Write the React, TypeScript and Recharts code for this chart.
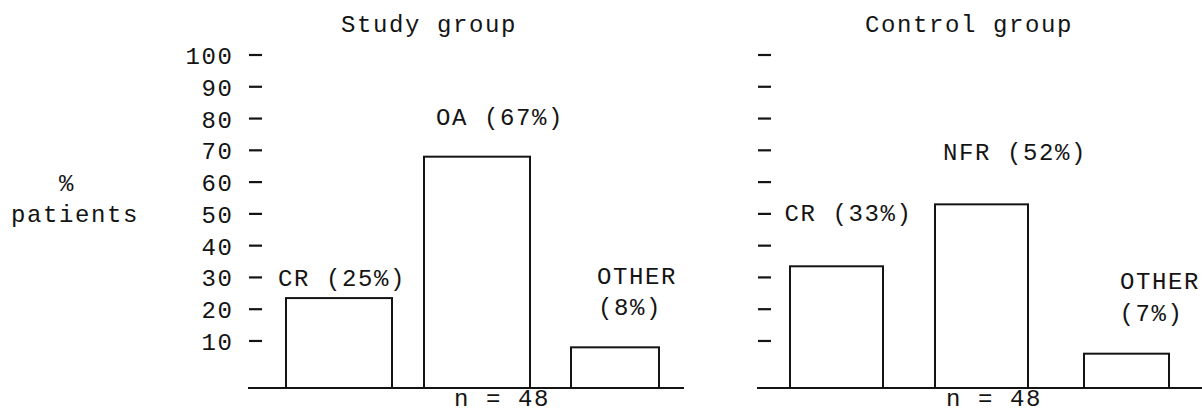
import React from 'react';
import { BarChart, Bar, XAxis, YAxis, LabelList } from 'recharts';

// ---------- data ----------
const studyCategories = ['CR', 'OA', 'OTHER'];
const studyValues = [23.5, 68, 8];
const studyPercentLabels = ['25%', '67%', '8%'];

const controlCategories = ['CR', 'NFR', 'OTHER'];
const controlValues = [33.5, 53, 6];
const controlPercentLabels = ['33%', '52%', '7%'];

const yTicks = [10, 20, 30, 40, 50, 60, 70, 80, 90, 100];
const yDomain: [number, number] = [-4.8, 100];

const studyTitle = 'Study group';
const controlTitle = 'Control group';
const yAxisTitle = ['%', 'patients'];
const sampleSizeLabel = 'n = 48';

// ---------- styles ----------
const FONT = "'Liberation Mono', 'DejaVu Sans Mono', monospace";
const FONT_SIZE = 24;
const LS = 1.6;
const INK = '#141414';

type LineOffset = { dx: number; dy: number };
const studyLabelOffsets: LineOffset[][] = [
  [{ dx: 3, dy: -12 }],
  [{ dx: 23, dy: -32 }],
  [{ dx: 22, dy: -63 }, { dx: 15, dy: -32 }],
];
const controlLabelOffsets: LineOffset[][] = [
  [{ dx: 12, dy: -45 }],
  [{ dx: 33.5, dy: -44 }],
  [{ dx: 33.5, dy: -65 }, { dx: 25, dy: -33 }],
];
const studyWidthFactors = [1, 1, 0.83];
const controlWidthFactors = [1, 1, 0.914];

const buildRows = (cats: string[], vals: number[], pcts: string[]) =>
  cats.map((c, i) => ({
    cat: c,
    value: vals[i],
    lines: c === 'OTHER' ? [c, `(${pcts[i]})`] : [`${c} (${pcts[i]})`],
  }));

const studyData = buildRows(studyCategories, studyValues, studyPercentLabels);
const controlData = buildRows(controlCategories, controlValues, controlPercentLabels);

const makeShape = (factors: number[]) => (props: any) => {
  const { x, y, width, height, index, background } = props;
  if (x == null || y == null) return null;
  const bottom = background && background.height ? background.y + background.height : y + height;
  const w = width * (factors[index] ?? 1);
  const cx = x + width / 2;
  return (
    <rect
      x={cx - w / 2}
      y={y}
      width={w}
      height={Math.max(0, bottom - y)}
      fill="#fff"
      stroke={INK}
      strokeWidth={2}
    />
  );
};

const makeLabel = (rows: { lines: string[] }[], offsets: LineOffset[][]) => (props: any) => {
  const vb = props.viewBox && props.viewBox.x != null ? props.viewBox : props;
  const index = props.index;
  if (vb == null || index == null || !rows[index]) return null;
  const cx = vb.x + vb.width / 2;
  const top = vb.height >= 0 ? vb.y : vb.y + vb.height;
  return (
    <g>
      {rows[index].lines.map((line, k) => (
        <text
          key={k}
          x={cx + offsets[index][k].dx}
          y={top + offsets[index][k].dy}
          textAnchor="middle"
          fontFamily={FONT}
          fontSize={FONT_SIZE}
          fill={INK}
          style={{ letterSpacing: LS }}
        >
          {line}
        </text>
      ))}
    </g>
  );
};

const makeTick = (showLabels: boolean) => (props: any) => {
  const { x, y, payload } = props;
  return (
    <g>
      <line x1={x + 1} x2={x + 14} y1={y} y2={y} stroke={INK} strokeWidth={2.2} />
      {showLabels && (
        <text
          x={x - 14.5}
          y={y + 9}
          textAnchor="end"
          fontFamily={FONT}
          fontSize={FONT_SIZE}
          fill={INK}
          style={{ letterSpacing: LS }}
        >
          {payload.value}
        </text>
      )}
    </g>
  );
};

const Txt = ({ x, y, anchor = 'start', children }: any) => (
  <text
    x={x}
    y={y}
    textAnchor={anchor}
    fontFamily={FONT}
    fontSize={FONT_SIZE}
    fill={INK}
    style={{ letterSpacing: LS }}
  >
    {children}
  </text>
);

export default function App() {
  return (
    <div
      style={{
        position: 'absolute',
        left: 0,
        top: 0,
        width: 1202,
        height: 414,
        background: '#fff',
        overflow: 'hidden',
      }}
    >
      <div style={{ position: 'absolute', left: 0, top: 0 }}>
        <BarChart
          width={700}
          height={414}
          data={studyData}
          margin={{ top: 55, right: 16, bottom: 0, left: 0 }}
          barSize={106}
        >
          <XAxis
            dataKey="cat"
            tick={false}
            tickLine={false}
            axisLine={{ stroke: INK, strokeWidth: 2.2 }}
            height={26}
            padding={{ left: 22, right: 0 }}
          />
          <YAxis
            type="number"
            domain={yDomain}
            ticks={yTicks}
            allowDataOverflow
            interval={0}
            width={248}
            axisLine={false}
            tickLine={false}
            tickSize={0}
            tickMargin={0}
            tick={makeTick(true)}
          />
          <Bar dataKey="value" isAnimationActive={false} shape={makeShape(studyWidthFactors)}>
            <LabelList dataKey="value" content={makeLabel(studyData, studyLabelOffsets)} />
          </Bar>
        </BarChart>
      </div>
      <div style={{ position: 'absolute', left: 700, top: 0 }}>
        <BarChart
          width={502}
          height={414}
          data={controlData}
          margin={{ top: 55, right: 0, bottom: 0, left: 0 }}
          barSize={93}
        >
          <XAxis
            dataKey="cat"
            tick={false}
            tickLine={false}
            axisLine={{ stroke: INK, strokeWidth: 2.2 }}
            height={26}
            padding={{ left: 7, right: 3 }}
          />
          <YAxis
            type="number"
            domain={yDomain}
            ticks={yTicks}
            allowDataOverflow
            interval={0}
            width={57}
            axisLine={false}
            tickLine={false}
            tickSize={0}
            tickMargin={0}
            tick={makeTick(false)}
          />
          <Bar dataKey="value" isAnimationActive={false} shape={makeShape(controlWidthFactors)}>
            <LabelList dataKey="value" content={makeLabel(controlData, controlLabelOffsets)} />
          </Bar>
        </BarChart>
      </div>
      <svg
        width={1202}
        height={414}
        style={{ position: 'absolute', left: 0, top: 0, pointerEvents: 'none' }}
      >
        <Txt x={341} y={32}>{studyTitle}</Txt>
        <Txt x={865} y={32}>{controlTitle}</Txt>
        <Txt x={67} y={191} anchor="middle">{yAxisTitle[0]}</Txt>
        <Txt x={11} y={222}>{yAxisTitle[1]}</Txt>
        <Txt x={454} y={406}>{sampleSizeLabel}</Txt>
        <Txt x={946} y={406}>{sampleSizeLabel}</Txt>
      </svg>
    </div>
  );
}
